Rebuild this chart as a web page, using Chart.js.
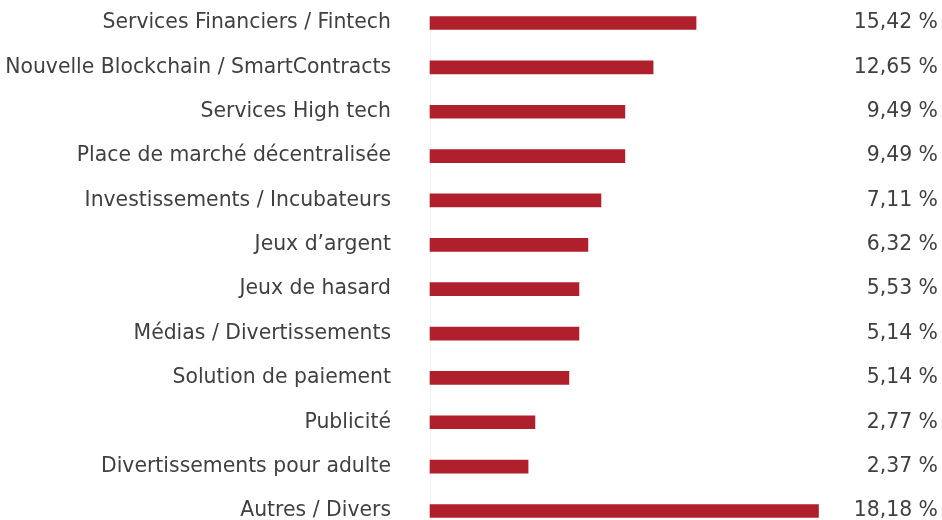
<!DOCTYPE html>
<html>
<head>
<meta charset="utf-8">
<script src="https://cdn.jsdelivr.net/npm/chart.js@4.4.1/dist/chart.umd.min.js"></script>
<style>
  html, body { margin: 0; padding: 0; background: #ffffff; }
  #wrap { width: 942px; height: 520px; position: relative; }
</style>
</head>
<body>
<div id="wrap"><canvas id="c"></canvas></div>
<script>
// ---- data ----
const categories = [
  "Services Financiers / Fintech",
  "Nouvelle Blockchain / SmartContracts",
  "Services High tech",
  "Place de marché décentralisée",
  "Investissements / Incubateurs",
  "Jeux d’argent",
  "Jeux de hasard",
  "Médias / Divertissements",
  "Solution de paiement",
  "Publicité",
  "Divertissements pour adulte",
  "Autres / Divers"
];
// printed percentages (right-hand labels)
const shares = [15.42, 12.65, 9.49, 9.49, 7.11, 6.32, 5.53, 5.14, 5.14, 2.77, 2.37, 18.18];
// bar lengths as drawn in the reference (same % units, scaled on the Autres bar)
const barValues = [12.45, 10.44, 9.12, 9.12, 8.00, 7.39, 6.97, 6.97, 6.50, 4.91, 4.59, 18.18];
const shareLabels = shares.map(v => v.toFixed(2).replace('.', ',') + ' %');

// ---- style ----
const FONT_FAMILY = '"DejaVu Sans", sans-serif';
const FONT_SIZE = 20.4;
const TEXT_COLOR = '#404040';
const BAR_COLOR = '#b01f2c';
const LEFT_W = 430;
const RIGHT_W = 102;

new Chart(document.getElementById('c'), {
  type: 'bar',
  data: {
    labels: categories,
    datasets: [{
      data: barValues,
      backgroundColor: BAR_COLOR,
      borderWidth: 0,
      barThickness: 13,
      clip: false
    }]
  },
  options: {
    indexAxis: 'y',
    responsive: true,
    maintainAspectRatio: false,
    animation: false,
    devicePixelRatio: 1,
    layout: { padding: { top: 23, bottom: 9, left: 0, right: 4 } },
    plugins: { legend: { display: false }, tooltip: { enabled: false } },
    scales: {
      x: { type: 'linear', min: 0, max: 19, display: false },
      y: {
        type: 'category',
        position: 'left',
        offset: false,
        grid: { display: false, drawTicks: false },
        border: { display: true, color: '#f0f0f0', width: 1 },
        ticks: { padding: 39, color: TEXT_COLOR, font: { family: FONT_FAMILY, size: FONT_SIZE } },
        afterFit(s) { s.width = LEFT_W; s.paddingTop = 0; s.paddingBottom = 0; }
      },
      y2: {
        type: 'category',
        position: 'right',
        labels: shareLabels,
        offset: false,
        grid: { display: false, drawTicks: false },
        border: { display: false },
        ticks: { crossAlign: 'far', padding: 4, color: TEXT_COLOR, font: { family: FONT_FAMILY, size: FONT_SIZE } },
        afterFit(s) { s.width = RIGHT_W; s.paddingTop = 0; s.paddingBottom = 0; }
      }
    }
  }
});
</script>
</body>
</html>
